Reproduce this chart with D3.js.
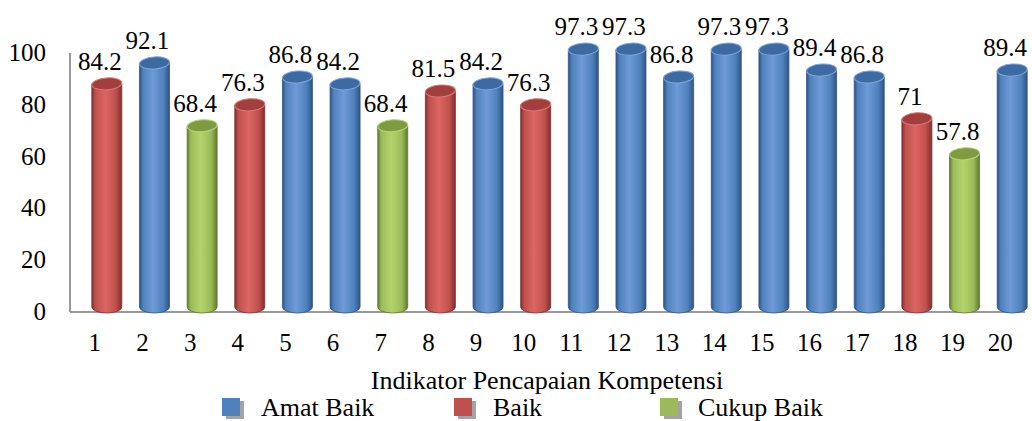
<!DOCTYPE html>
<html><head><meta charset="utf-8">
<script src="https://cdn.jsdelivr.net/npm/d3@7"></script>
</head><body style="margin:0"><svg id="c" width="1032" height="421" style="display:block"></svg>
<script>
const categories = ["1","2","3","4","5","6","7","8","9","10","11","12","13","14","15","16","17","18","19","20"];
const values = [84.2,92.1,68.4,76.3,86.8,84.2,68.4,81.5,84.2,76.3,97.3,97.3,86.8,97.3,97.3,89.4,86.8,71,57.8,89.4];
const valueLabels = ["84.2","92.1","68.4","76.3","86.8","84.2","68.4","81.5","84.2","76.3","97.3","97.3","86.8","97.3","97.3","89.4","86.8","71","57.8","89.4"];
const classes = ["Baik","Amat Baik","Cukup Baik","Baik","Amat Baik","Amat Baik","Cukup Baik","Baik","Amat Baik","Baik","Amat Baik","Amat Baik","Amat Baik","Amat Baik","Amat Baik","Amat Baik","Amat Baik","Baik","Cukup Baik","Amat Baik"];
const legendNames = ["Amat Baik","Baik","Cukup Baik"];
const yTicks = ["0","20","40","60","80","100"];
const axisTitle = "Indikator Pencapaian Kompetensi";

const palette = {
  "Amat Baik": {base:"#4F81BD", light:"#6F9BD6", dark:"#2F5485", top:"#3E6AA3", rim:"#7FA6D8"},
  "Baik": {base:"#C0504D", light:"#DB6663", dark:"#7E302E", top:"#A23E3B", rim:"#D87A77"},
  "Cukup Baik": {base:"#9BBB59", light:"#B3D46C", dark:"#5F7A2E", top:"#7E9B3F", rim:"#B8D37E"}
};

const svg = d3.select("#c");
const defs = svg.append("defs");
legendNames.forEach((n,i)=>{
  const p = palette[n];
  const g = defs.append("linearGradient").attr("id","g"+i).attr("x1","0").attr("x2","1").attr("y1","0").attr("y2","0");
  [[0,p.dark],[0.12,p.base],[0.45,p.light],[0.8,p.base],[1,p.dark]].forEach(s=>g.append("stop").attr("offset",s[0]).attr("stop-color",s[1]));
});
const gid = n => "url(#g"+legendNames.indexOf(n)+")";

const x = d3.scaleBand().domain(categories).range([71,1024]);
const y = d3.scaleLinear().domain([0,100]).range([312,53]);
const yBar = d3.scaleLinear().domain([0,100]).range([307,42]);
const depthX = 12, barW = 30, ry = 6;

svg.append("line").attr("x1",70).attr("x2",70).attr("y1",y(100)).attr("y2",y(0)).attr("stroke","#9a9a9a").attr("stroke-width",2);
svg.append("line").attr("x1",70).attr("x2",1025).attr("y1",y(0)).attr("y2",y(0)).attr("stroke","#9a9a9a").attr("stroke-width",2);

const T = sel => sel.attr("font-family","Liberation Serif").style("font-family",'"Liberation Serif", "Times New Roman", Tinos, Times').attr("fill","#000");

svg.append("g").selectAll("text").data(yTicks).join("text")
  .attr("x",46).attr("y",d=>y(+d)+8).attr("text-anchor","end").attr("font-size",25).call(T).text(d=>d);

svg.append("g").selectAll("text").data(categories).join("text")
  .attr("x",d=>x(d)+x.bandwidth()/2).attr("y",351).attr("text-anchor","middle").attr("font-size",25).call(T).text(d=>d);

const bars = svg.append("g").selectAll("g").data(values).join("g")
  .attr("transform",(d,i)=>`translate(${x(categories[i])+x.bandwidth()/2+depthX},0)`);
bars.each(function(d,i){
  const g = d3.select(this), p = palette[classes[i]];
  const yt = yBar(d), yb = yBar(0);
  const hw = barW/2;
  g.append("path")
    .attr("d",`M${-hw},${yt} L${-hw},${yb} A${hw},${ry} 0 0 0 ${hw},${yb} L${hw},${yt} Z`)
    .attr("fill",gid(classes[i])).attr("stroke",p.dark).attr("stroke-width",0.8);
  g.append("ellipse").attr("cx",0).attr("cy",yt).attr("rx",hw).attr("ry",ry)
    .attr("transform",`rotate(-4,0,${yt})`)
    .attr("fill",p.top).attr("stroke",p.rim).attr("stroke-width",1);
});

svg.append("g").selectAll("text").data(values).join("text")
  .attr("x",(d,i)=>x(categories[i])+x.bandwidth()/2+5).attr("y",d=>yBar(d)-14)
  .attr("text-anchor","middle").attr("font-size",25).call(T).text((d,i)=>valueLabels[i]);

svg.append("text").attr("x",547).attr("y",389).attr("text-anchor","middle").attr("font-size",26).call(T).text(axisTitle);

const legX = [222,454,660];
const lg = svg.append("g").selectAll("g").data(legendNames).join("g")
  .attr("transform",(d,i)=>`translate(${legX[i]},398)`);
lg.append("rect").attr("x",4).attr("y",3).attr("width",18).attr("height",18).attr("fill","#a3a3a3");
lg.append("rect").attr("x",0).attr("y",0).attr("width",18).attr("height",18).attr("fill",d=>palette[d].base);
lg.append("text").attr("x",(d,i)=>[39,39,38][i]).attr("y",18).attr("font-size",26).call(T).text(d=>d);
</script></body></html>
